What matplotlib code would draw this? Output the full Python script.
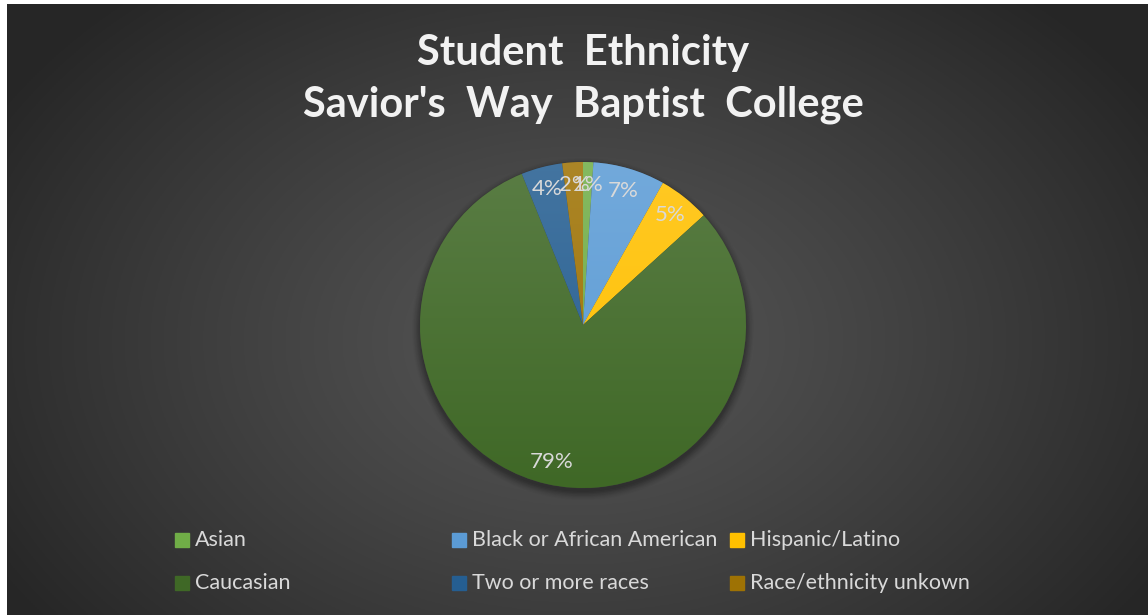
import numpy as np
import matplotlib
matplotlib.use("Agg")
import matplotlib.pyplot as plt
import matplotlib.colors as mcolors
from matplotlib.patches import Rectangle, Circle

# student counts as a share of the whole (percent)
groups = ["Asian", "Black or African American", "Hispanic/Latino",
          "Caucasian", "Two or more races", "Race/ethnicity unkown"]
shares = [1, 7, 5, 79, 4, 2]
colors = ["#70AD47", "#5B9BD5", "#FFC000", "#3F6826", "#255E91", "#9E7204"]

W, H = 1148, 615
fig = plt.figure(figsize=(W / 100, H / 100), dpi=100, facecolor="white")

# dark backdrop with a soft radial glow in the middle
bg = fig.add_axes([7 / W, 0, 1 - 7 / W, 1 - 4 / H])
bg.set_axis_off()
yy, xx = np.mgrid[0:300, 0:560]
cx, cy = 280, 165
d = np.sqrt(((xx - cx) / 330.0) ** 2 + ((yy - cy) / 230.0) ** 2)
d = np.clip(d, 0, 1)
shade = 0.335 - 0.185 * d ** 1.2
bg.imshow(np.dstack([shade] * 3), aspect="auto", extent=[0, 1, 0, 1])
bg.set_xlim(0, 1)
bg.set_ylim(0, 1)

# pie axes, centre (583, 325) px, radius 163 px
cx_px, cy_px, r_px = 583, 325, 163
ax = fig.add_axes([(cx_px - r_px) / W, (H - cy_px - r_px) / H,
                   2 * r_px / W, 2 * r_px / H])

# faint drop shadow under the pie
for k, a in zip(range(8), np.linspace(0.07, 0.02, 8)):
    ax.add_patch(Circle((0, -0.025), 1.0 + 0.007 * k, color="black",
                        alpha=a, lw=0, zorder=0, clip_on=False))

wedges, _ = ax.pie(shares, colors=colors, startangle=90, counterclock=False,
                   radius=1, wedgeprops=dict(linewidth=0.4, edgecolor="#3a3a3a"))

# light-to-dark vertical sheen clipped to each slice
grad = np.linspace(1, 0, 256)[:, None]
for w, c in zip(wedges, colors):
    base = np.array(mcolors.to_rgb(c))
    light = base + (1 - base) * 0.14
    img = light[None, None, :] * grad[..., None] + base[None, None, :] * (1 - grad[..., None])
    img = np.repeat(img, 4, axis=1)
    im = ax.imshow(img, extent=[-1, 1, -1, 1], aspect="auto", zorder=w.get_zorder() + 0.1)
    im.set_clip_path(w)

for w, v in zip(wedges, shares):
    mid = np.deg2rad((w.theta1 + w.theta2) / 2)
    ax.text(0.86 * np.cos(mid), 0.86 * np.sin(mid), f"{v}%",
            ha="center", va="center", fontsize=16, color="#d9d9d9",
            family="Lato", zorder=5)

ax.set_xlim(-1, 1)
ax.set_ylim(-1, 1)
ax.set_axis_off()

fig.text(583 / W, 1 - 53 / H, "Student  Ethnicity", ha="center", va="center",
         fontsize=30, fontweight="bold", color="#f2f2f2", family="Lato")
fig.text(583 / W, 1 - 105 / H, "Savior's  Way  Baptist  College", ha="center",
         va="center", fontsize=30, fontweight="bold", color="#f2f2f2", family="Lato")

# legend laid out in two rows of three
leg_x = [175, 452, 730, 175, 452, 730]
leg_y = [539.5, 539.5, 539.5, 583, 583, 583]
for i, (lx, ly) in enumerate(zip(leg_x, leg_y)):
    base = np.array(mcolors.to_rgb(colors[i]))
    fig.patches.append(Rectangle((lx / W, 1 - (ly + 7) / H), 14 / W, 14 / H,
                                 transform=fig.transFigure, color=colors[i]))
    fig.text((lx + 20) / W, 1 - ly / H, groups[i], ha="left", va="center",
             fontsize=15.5, color="#d9d9d9", family="Lato")

fig.savefig("out.png", dpi=100, facecolor="white")
